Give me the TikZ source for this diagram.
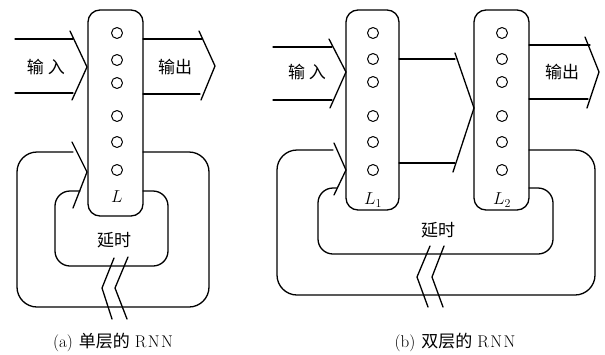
\documentclass[tikz,border=0pt]{standalone}
\usepackage{fontspec}
\newfontfamily\cjk{Noto Sans CJK SC}
\begin{document}
\begin{tikzpicture}[x=1pt,y=-1pt,
  ln/.style={line width=1.3pt, line join=round, line cap=round},
  colbox/.style={ln, rounded corners=12pt},
  cell/.style={ln, line width=1pt},
  lab/.style={font=\cjk\fontsize{17}{17}\selectfont, inner sep=0pt},
  captxt/.style={font=\fontsize{17}{17}\selectfont, inner sep=0pt},
  ll/.style={font=\fontsize{18}{18}\selectfont\itshape, inner sep=0pt}]
\useasboundingbox (0,0) rectangle (605,354);

% ---------------- (a) ----------------
\draw[colbox] (88,10) rectangle (143,216);
\foreach \yy in {33,60,83,116,142,170} \draw[cell] (117,\yy) circle (5.5);
\node[ll] (La) at (117,197) {$L$};
% input
\draw[ln] (15,39) -- (73,39);
\draw[ln] (15,93) -- (73,93);
\draw[ln] (70,31) -- (87,67) -- (72,100);
\node[lab] (ina) at (46,67) {输\hspace{4pt}入};
% output
\draw[ln] (143,39) -- (202,39);
\draw[ln] (143,94) -- (200,94);
\draw[ln] (199,31) -- (215,66) -- (201,100);
\node[lab] (outa) at (175,67) {输出};
% feedback loop
\draw[ln, rounded corners=20pt] (143,152) -- (209,152) -- (209,307) -- (17,307) -- (17,152) -- (73,152);
\draw[ln] (72,142) -- (87,172) -- (73,208);
\draw[ln, rounded corners=15pt] (80,191) -- (55,191) -- (55,266) -- (168,266) -- (168,191) -- (143,191);
\node[lab] (dla) at (114,240) {延时};
\draw[ln] (114,258) -- (102,288) -- (112,319);
\draw[ln] (128,257) -- (115,288) -- (127,319);
\node[captxt] (capa) at (113,342) {(a)\hspace{6pt}{\cjk 单层的}\hspace{5pt}R\hspace{1.5pt}N\hspace{1.5pt}N};

% ---------------- (b) ----------------
\draw[colbox] (346,10) rectangle (399,210);
\draw[colbox] (474,10) rectangle (529,210);
\foreach \yy in {33,59,82,116,142,170} {
  \draw[cell] (373,\yy) circle (5.5);
  \draw[cell] (502,\yy) circle (5.5);
}
\node[ll] (L1) at (373,200) {$L_1$};
\node[ll] (L2) at (502,200) {$L_2$};
% input
\draw[ln] (273,47) -- (332,47);
\draw[ln] (273,100) -- (332,100);
\draw[ln] (329,39) -- (346,72) -- (330,108);
\node[lab] (inb) at (307,72) {输\hspace{4pt}入};
% middle
\draw[ln] (399,59) -- (455,59);
\draw[ln] (399,163) -- (455,163);
\draw[ln] (455,53) -- (474,108) -- (453,172);
% output
\draw[ln] (529,45) -- (590,45);
\draw[ln] (529,99) -- (588,99);
\draw[ln] (585,37) -- (599,72) -- (587,108);
\node[lab] (outb) at (562,72) {输出};
% feedback loop
\draw[ln, rounded corners=20pt] (529,150) -- (595,150) -- (595,295) -- (277,295) -- (277,150) -- (333,150);
\draw[ln] (334,143) -- (346,170) -- (334,195);
\draw[ln, rounded corners=15pt] (337,188) -- (318,188) -- (318,254) -- (553,254) -- (553,188) -- (529,188);
\node[lab] (dlb) at (438,230) {延时};
\draw[ln] (430,246) -- (417,277) -- (428,307);
\draw[ln] (444,246) -- (432,277) -- (443,307);
\node[captxt] (capb) at (455,342) {(b)\hspace{6pt}{\cjk 双层的}\hspace{5pt}R\hspace{1.5pt}N\hspace{1.5pt}N};
\end{tikzpicture}
\end{document}
